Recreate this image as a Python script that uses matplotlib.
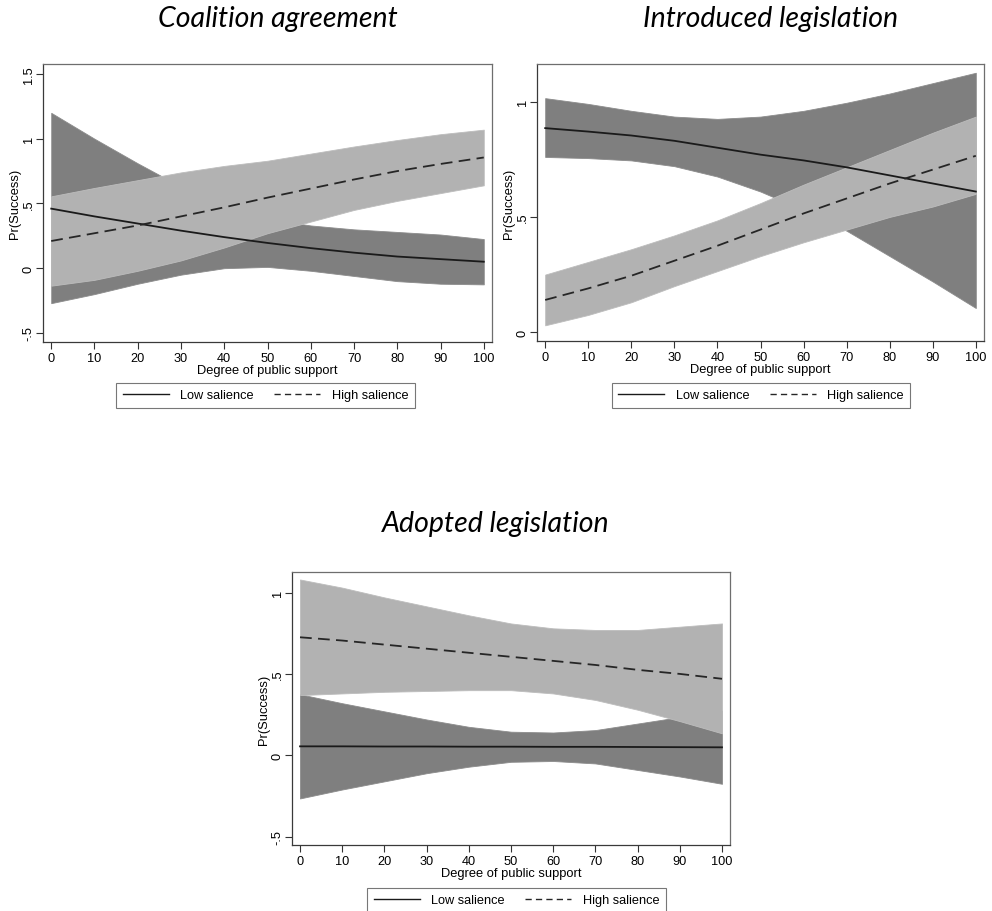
import matplotlib
matplotlib.use("Agg")
import matplotlib.pyplot as plt
from matplotlib.lines import Line2D

# Degree of public support (x grid of predictions)
support = [0, 10, 20, 30, 40, 50, 60, 70, 80, 90, 100]

# Coalition agreement
ca_low = [0.46, 0.40, 0.345, 0.29, 0.24, 0.195, 0.155, 0.12, 0.09, 0.07, 0.05]
ca_low_lo = [-0.27, -0.20, -0.12, -0.05, 0.0, 0.01, -0.02, -0.06, -0.10, -0.12, -0.125]
ca_low_hi = [1.20, 1.00, 0.81, 0.63, 0.48, 0.38, 0.33, 0.30, 0.28, 0.26, 0.225]
ca_high = [0.21, 0.27, 0.33, 0.40, 0.47, 0.545, 0.615, 0.685, 0.75, 0.805, 0.855]
ca_high_lo = [-0.135, -0.09, -0.02, 0.06, 0.16, 0.27, 0.36, 0.45, 0.52, 0.58, 0.64]
ca_high_hi = [0.555, 0.62, 0.68, 0.74, 0.79, 0.83, 0.885, 0.94, 0.99, 1.035, 1.07]

# Introduced legislation
il_low = [0.885, 0.87, 0.853, 0.83, 0.80, 0.77, 0.745, 0.715, 0.68, 0.645, 0.61]
il_low_lo = [0.76, 0.755, 0.745, 0.72, 0.675, 0.61, 0.53, 0.44, 0.33, 0.22, 0.105]
il_low_hi = [1.015, 0.99, 0.96, 0.935, 0.925, 0.935, 0.96, 0.995, 1.035, 1.08, 1.125]
il_high = [0.14, 0.19, 0.245, 0.31, 0.375, 0.445, 0.515, 0.58, 0.645, 0.705, 0.765]
il_high_lo = [0.03, 0.075, 0.13, 0.20, 0.265, 0.33, 0.39, 0.445, 0.50, 0.545, 0.60]
il_high_hi = [0.25, 0.305, 0.36, 0.42, 0.485, 0.56, 0.64, 0.715, 0.79, 0.865, 0.935]

# Adopted legislation
al_low = [0.055, 0.055, 0.054, 0.054, 0.053, 0.053, 0.052, 0.052, 0.051, 0.05, 0.049]
al_low_lo = [-0.265, -0.21, -0.16, -0.11, -0.07, -0.04, -0.035, -0.05, -0.09, -0.13, -0.175]
al_low_hi = [0.375, 0.32, 0.27, 0.22, 0.175, 0.145, 0.14, 0.155, 0.195, 0.235, 0.275]
al_high = [0.725, 0.705, 0.68, 0.655, 0.63, 0.605, 0.58, 0.555, 0.525, 0.50, 0.47]
al_high_lo = [0.37, 0.38, 0.39, 0.395, 0.40, 0.40, 0.38, 0.34, 0.28, 0.21, 0.135]
al_high_hi = [1.08, 1.03, 0.97, 0.915, 0.86, 0.81, 0.78, 0.77, 0.77, 0.79, 0.81]

titles = ["Coalition agreement", "Introduced legislation", "Adopted legislation"]
series_labels = ["Low salience", "High salience"]
x_label = "Degree of public support"
y_label = "Pr(Success)"
x_ticks = [0, 10, 20, 30, 40, 50, 60, 70, 80, 90, 100]
y_ticks_wide = [-0.5, 0, 0.5, 1, 1.5]
y_ticklabels_wide = ["-.5", "0", ".5", "1", "1.5"]
y_ticks_unit = [0, 0.5, 1]
y_ticklabels_unit = ["0", ".5", "1"]
y_ticks_mid = [-0.5, 0, 0.5, 1]
y_ticklabels_mid = ["-.5", "0", ".5", "1"]

W, H = 992, 912
DARK = "#7f7f7f"
LIGHT = "#b2b2b2"
TICK_FONT = "Liberation Sans"
TITLE_FONT = "Lato"
TICK_SIZE = 9.2
LABEL_SIZE = 9.3

fig = plt.figure(figsize=(W / 100, H / 100), dpi=100)


def px_axes(left, top, right, bottom):
    return fig.add_axes([left / W, 1 - bottom / H, (right - left) / W, (bottom - top) / H])


def draw_panel(ax, low, low_lo, low_hi, high, high_lo, high_hi, ylim, yticks, ylabels):
    ax.fill_between(support, low_lo, low_hi, color=DARK, lw=0.6, edgecolor="#8c8c8c", zorder=1)
    ax.fill_between(support, high_lo, high_hi, color=LIGHT, lw=0.6, edgecolor="#bdbdbd", zorder=2)
    ax.plot(support, low, color="#1a1a1a", lw=1.3, zorder=3)
    ax.plot(support, high, color="#262626", lw=1.3, ls=(0, (6.5, 3.5)), zorder=3)
    ax.set_xlim(-1.9, 101.9)
    ax.set_ylim(*ylim)
    ax.set_xticks(x_ticks)
    ax.set_xticklabels([str(t) for t in x_ticks], fontsize=TICK_SIZE, family=TICK_FONT)
    ax.set_yticks(yticks)
    ax.set_yticklabels(ylabels, fontsize=TICK_SIZE, family=TICK_FONT, rotation=90, va="center")
    ax.tick_params(axis="both", direction="out", length=5, width=0.8, color="#333333", pad=2)
    ax.tick_params(axis="y", pad=1)
    ax.set_xlabel(x_label, fontsize=LABEL_SIZE, family=TICK_FONT, labelpad=0)
    ax.set_ylabel(y_label, fontsize=LABEL_SIZE, family=TICK_FONT, labelpad=1)
    for side in ("left", "bottom"):
        ax.spines[side].set_color("#3a3a3a")
        ax.spines[side].set_linewidth(0.9)
    for side in ("top", "right"):
        ax.spines[side].set_color("#6e6e6e")
        ax.spines[side].set_linewidth(0.9)


def add_legend(cx, cy):
    handles = [
        Line2D([], [], color="#1a1a1a", lw=1.0),
        Line2D([], [], color="#262626", lw=1.0, ls=(0, (4.5, 3))),
    ]
    leg = fig.legend(handles, series_labels, loc="center", bbox_to_anchor=(cx / W, 1 - cy / H),
                     ncol=2, frameon=True, fancybox=False, handlelength=3.6, handletextpad=0.9,
                     columnspacing=1.6, borderpad=0.5, prop={"family": TICK_FONT, "size": TICK_SIZE})
    leg.get_frame().set_edgecolor("#555555")
    leg.get_frame().set_linewidth(0.8)


ax1 = px_axes(43, 65, 492, 343)
draw_panel(ax1, ca_low, ca_low_lo, ca_low_hi, ca_high, ca_high_lo, ca_high_hi,
           (-0.57, 1.577), y_ticks_wide, y_ticklabels_wide)
ax2 = px_axes(537, 65, 984, 342)
draw_panel(ax2, il_low, il_low_lo, il_low_hi, il_high, il_high_lo, il_high_hi,
           (-0.038, 1.163), y_ticks_unit, y_ticklabels_unit)
ax3 = px_axes(292, 573, 730, 846)
draw_panel(ax3, al_low, al_low_lo, al_low_hi, al_high, al_high_lo, al_high_hi,
           (-0.551, 1.126), y_ticks_mid, y_ticklabels_mid)

add_legend(265.5, 396.5)
add_legend(761, 396.5)
add_legend(516.5, 901)

for title, (cx, base) in zip(titles, [(277.5, 27), (771, 27), (496, 532)]):
    fig.text(cx / W, 1 - base / H, title, ha="center", va="baseline",
             fontsize=20.5, style="italic", family=TITLE_FONT)

fig.savefig("out.png", dpi=100, facecolor="white")
